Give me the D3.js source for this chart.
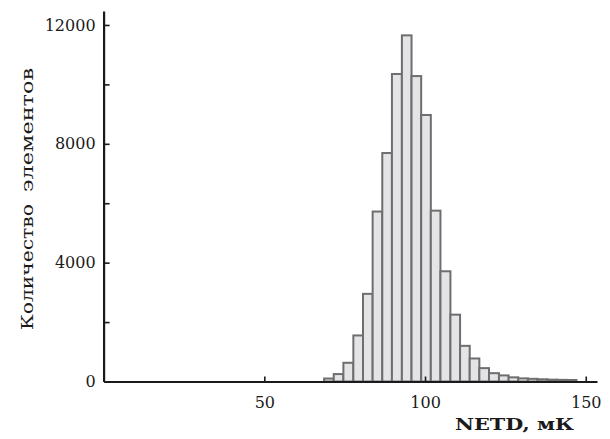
<!DOCTYPE html>
<html>
<head>
<meta charset="utf-8">
<script src="https://cdn.jsdelivr.net/npm/d3@7"></script>
<style>
  body { margin: 0; background: #fff; }
  svg text { font-family: "DejaVu Serif", "Liberation Serif", serif; fill: #1a1a1a; }
</style>
</head>
<body>
<div class="chart"></div>
<script>
// histogram bin edges (NETD, mK) and element counts per bin
var binEdges = [68.6, 71.6, 74.6, 77.7, 80.7, 83.7, 86.7, 89.7, 92.8, 95.8, 98.8, 101.8, 104.8,
                107.9, 110.9, 113.9, 116.9, 119.9, 123.0, 126.0, 129.0, 132.0, 135.0, 138.1, 141.1, 144.1, 147.1];
var counts = [100, 250, 630, 1550, 2950, 5720, 7690, 10350, 11650, 10280, 8970, 5750, 3710,
              2250, 1200, 775, 450, 280, 205, 140, 105, 90, 75, 62, 55, 50];
var xTicks = [50, 100, 150];
var yTicks = [0, 2000, 4000, 6000, 8000, 10000, 12000];
var yLabelled = [0, 4000, 8000, 12000];

var svgWidth = 610, svgHeight = 439;

var svg = d3.select(".chart")
    .append("svg")
    .attr("width", svgWidth)
    .attr("height", svgHeight);

var x = d3.scaleLinear().domain([0, 153.5]).range([103.6, 597]);
var y = d3.scaleLinear().domain([0, 12470]).range([381.5, 11]);

var bins = counts.map(function(c, i) {
    return {x0: binEdges[i], x1: binEdges[i + 1], n: c};
});

// bars
svg.append("g").selectAll("rect")
    .data(bins)
    .enter().append("rect")
    .attr("x", function(d) { return x(d.x0); })
    .attr("y", function(d) { return y(d.n); })
    .attr("width", function(d) { return x(d.x1) - x(d.x0); })
    .attr("height", function(d) { return y(0) - y(d.n); })
    .attr("fill", "#e4e4e6")
    .attr("stroke", "#6e6e70")
    .attr("stroke-width", 2);

// y axis, ticks pointing inward
var yAxis = d3.axisLeft(y)
    .tickValues(yTicks)
    .tickSizeInner(-6)
    .tickSizeOuter(0)
    .tickPadding(8)
    .tickFormat(function(d) { return yLabelled.indexOf(d) >= 0 ? d : ""; });

var gy = svg.append("g")
    .attr("transform", "translate(103.6,0)")
    .call(yAxis);

// x axis, ticks pointing inward
var xAxis = d3.axisBottom(x)
    .tickValues(xTicks)
    .tickSizeInner(-5)
    .tickSizeOuter(0)
    .tickPadding(15);

var gx = svg.append("g")
    .attr("transform", "translate(0,381.5)")
    .call(xAxis);

[gx, gy].forEach(function(g) {
    g.select(".domain").attr("stroke", "#1a1a1a").attr("stroke-width", 2.2);
    g.selectAll(".tick line").attr("stroke", "#1a1a1a").attr("stroke-width", 1.6);
    g.selectAll(".tick text").attr("font-size", 16).attr("font-family", "DejaVu Serif").attr("fill", "#1a1a1a");
});
gy.selectAll(".tick").filter(function(d) { return d === 0; }).select("line").remove();

// axis titles (y title set as two words, wide gap between them)
var yTitle = svg.append("text")
    .attr("transform", "translate(33,0) rotate(-90)")
    .attr("font-size", 17);
yTitle.append("tspan")
    .attr("x", -330)
    .attr("textLength", 126)
    .attr("lengthAdjust", "spacingAndGlyphs")
    .text("Количество");
yTitle.append("tspan")
    .attr("x", -192)
    .attr("textLength", 124)
    .attr("lengthAdjust", "spacingAndGlyphs")
    .text("элементов");

svg.append("text")
    .attr("x", 455)
    .attr("y", 430)
    .attr("font-size", 17)
    .attr("font-weight", "bold")
    .attr("textLength", 119)
    .attr("lengthAdjust", "spacingAndGlyphs")
    .text("NETD, мК");
</script>
</body>
</html>
